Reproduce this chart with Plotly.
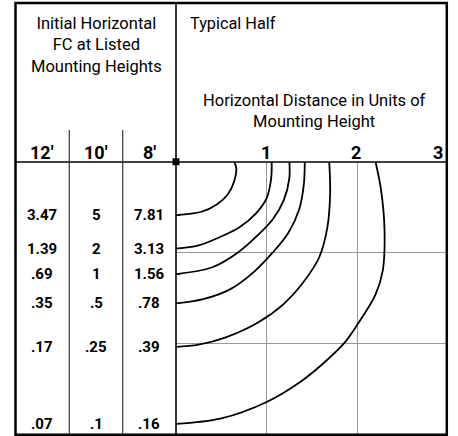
import plotly.graph_objects as go

# ---------------- data ----------------
heights = ["12′", "10′", "8′"]
fc_12 = [".07", ".17", ".35", ".69", "1.39", "3.47"]
fc_10 = [".1", ".25", ".5", "1", "2", "5"]
fc_8 = [".16", ".39", ".78", "1.56", "3.13", "7.81"]
# left-axis (vertical) intercept of each isofootcandle curve, same order as fc lists
row_pos = [2.88, 2.035, 1.556, 1.235, 0.956, 0.586]

x_ticks = [1, 2, 3]
tick_text = ["1", "2", "3"]

# isofootcandle curves (x = horizontal distance, y = distance down, units of MH)
c1_x = [0.64, 0.665, 0.64, 0.57, 0.45, 0.28, 0.0]
c1_y = [0.0, 0.07, 0.22, 0.36, 0.47, 0.55, 0.586]
c2_x = [1.055, 1.05, 1.0, 0.88, 0.70, 0.48, 0.25, 0.0]
c2_y = [0.0, 0.18, 0.40, 0.57, 0.72, 0.83, 0.92, 0.956]
c3_x = [1.25, 1.25, 1.19, 1.07, 0.90, 0.68, 0.40, 0.0]
c3_y = [0.0, 0.18, 0.42, 0.63, 0.81, 1.0, 1.16, 1.235]
c4_x = [1.42, 1.41, 1.36, 1.24, 1.065, 0.86, 0.60, 0.30, 0.0]
c4_y = [0.0, 0.25, 0.52, 0.78, 1.0, 1.21, 1.40, 1.51, 1.556]
c5_x = [1.69, 1.70, 1.67, 1.58, 1.40, 1.18, 0.90, 0.55, 0.25, 0.0]
c5_y = [0.0, 0.35, 0.72, 1.05, 1.33, 1.57, 1.77, 1.93, 2.01, 2.035]
c6_x = [2.20, 2.26, 2.30, 2.28, 2.20, 2.0, 1.85, 1.62, 1.37, 1.0, 0.50, 0.0]
c6_y = [0.0, 0.30, 0.75, 1.20, 1.46, 1.79, 2.0, 2.22, 2.42, 2.64, 2.82, 2.88]

curves = [(c1_x, c1_y), (c2_x, c2_y), (c3_x, c3_y), (c4_x, c4_y), (c5_x, c5_y), (c6_x, c6_y)]

# ---------------- layout helpers ----------------
W, H = 458, 436
def px(x):
    return x / W
def py(y):
    return 1 - y / H

FONT = "Roboto, sans-serif"

fig = go.Figure()
for cx, cy in curves:
    fig.add_trace(go.Scatter(x=cx, y=cy, mode="lines",
                             line=dict(color="black", width=1.8, shape="spline", smoothing=1.0),
                             hoverinfo="skip", showlegend=False, cliponaxis=False))

# origin marker
fig.add_trace(go.Scatter(x=[0], y=[0], mode="markers", marker=dict(symbol="square", size=7, color="black"),
                         showlegend=False, cliponaxis=False, hoverinfo="skip"))
# invisible trace on tick axis
fig.add_trace(go.Scatter(x=[0], y=[0], yaxis="y2", mode="markers", marker=dict(opacity=0),
                         showlegend=False, hoverinfo="skip"))

annotations = []
annotations.append(dict(xref="paper", yref="paper", x=px(96), y=py(45.5),
                        text="Initial Horizontal<br>FC at Listed<br>Mounting Heights",
                        showarrow=False, xanchor="center", yanchor="middle",
                        font=dict(size=16.5, color="black", family=FONT)))
annotations.append(dict(xref="paper", yref="paper", x=px(188), y=py(23.5), text="Typical Half",
                        showarrow=False, xanchor="left", yanchor="middle",
                        font=dict(size=16.3, color="black", family=FONT)))
annotations.append(dict(xref="paper", yref="paper", x=px(314), y=py(111),
                        text="Horizontal Distance in Units of<br>Mounting Height",
                        showarrow=False, xanchor="center", yanchor="middle",
                        font=dict(size=16.5, color="black", family=FONT)))
col_x = [42, 96, 149]
for cxp, h in zip(col_x, heights):
    annotations.append(dict(xref="paper", yref="paper", x=px(cxp), y=py(152), text=h, showarrow=False,
                            xanchor="center", yanchor="middle",
                            font=dict(size=18, color="black", family=FONT, weight="bold")))
for tv, tt in zip(x_ticks, tick_text):
    if tv == 3:
        annotations.append(dict(xref="x", yref="paper", x=tv, y=py(152), text=tt, showarrow=False,
                                xanchor="right", xshift=-3, yanchor="middle",
                                font=dict(size=18, color="black", family=FONT, weight="bold")))
    else:
        annotations.append(dict(xref="x", yref="paper", x=tv, y=py(152), text=tt, showarrow=False,
                                xanchor="center", xshift=-1, yanchor="middle",
                                font=dict(size=18, color="black", family=FONT, weight="bold")))
for col, vals in zip(col_x, [fc_12, fc_10, fc_8]):
    for v, yv in zip(vals, row_pos):
        annotations.append(dict(xref="paper", yref="y", x=px(col), y=yv, text=v, showarrow=False,
                                xanchor="center", yanchor="middle",
                                font=dict(size=15, color="black", family=FONT, weight="bold")))

shapes = [
    dict(type="rect", xref="paper", yref="paper", x0=px(15.5), x1=px(446.8), y0=py(434.8), y1=py(3),
         line=dict(color="black", width=2.5)),
    dict(type="line", xref="paper", yref="paper", x0=px(176), x1=px(176), y0=py(434.8), y1=py(3),
         line=dict(color="black", width=1.6)),
    dict(type="line", xref="paper", yref="paper", x0=px(15.5), x1=px(446.8), y0=py(162), y1=py(162),
         line=dict(color="black", width=1.4)),
    dict(type="line", xref="paper", yref="paper", x0=px(69.3), x1=px(69.3), y0=py(434.8), y1=py(130),
         line=dict(color="#333", width=1.2)),
    dict(type="line", xref="paper", yref="paper", x0=px(122.7), x1=px(122.7), y0=py(434.8), y1=py(130),
         line=dict(color="#333", width=1.2)),
]

fig.update_layout(
    width=W, height=H, margin=dict(l=0, r=0, t=0, b=0),
    paper_bgcolor="white", plot_bgcolor="white",
    xaxis=dict(domain=[px(176), px(448)], range=[0, 3], tickvals=[1, 2], showticklabels=False, ticks="",
               showgrid=True, gridcolor="#999", gridwidth=1.2, zeroline=False, showline=False, fixedrange=True),
    yaxis=dict(domain=[py(434.7), py(161.7)], range=[3, 0], tickvals=[1, 2], showticklabels=False, ticks="",
               showgrid=True, gridcolor="#999", gridwidth=1.2, zeroline=False, showline=False, fixedrange=True),
    yaxis2=dict(overlaying="y", range=[3, 0], tickvals=row_pos, ticks="inside", ticklen=4, tickwidth=1.2,
                tickcolor="black", showticklabels=False, showgrid=False, zeroline=False, showline=False,
                side="left", fixedrange=True),
    annotations=annotations, shapes=shapes,
    showlegend=False,
)

fig.write_html("out.html", config={"displayModeBar": False},
               post_script="document.body.style.margin='0';document.body.style.padding='0';")
